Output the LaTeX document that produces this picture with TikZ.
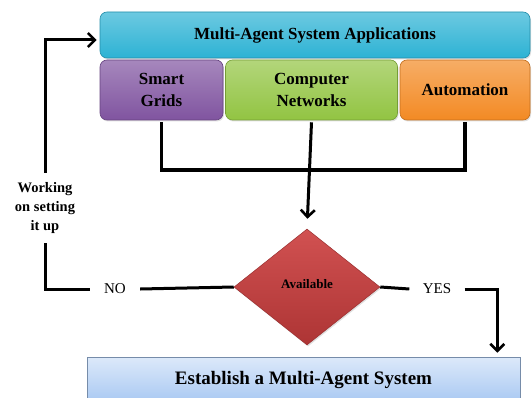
\documentclass[tikz,border=0pt]{standalone}
\usepackage{fontspec}
\setmainfont{Liberation Serif}
\usetikzlibrary{arrows.meta, calc, positioning, shapes.geometric, shadows}
\definecolor{appcyan}{RGB}{45,178,212}
\definecolor{gridpurple}{RGB}{128,84,160}
\definecolor{netgreen}{RGB}{146,196,66}
\definecolor{autoorange}{RGB}{243,138,36}
\definecolor{availred}{RGB}{204,62,62}
\definecolor{estabblue}{RGB}{168,200,242}
\tikzset{
    appbox/.style={
        rounded corners=7pt, draw=#1!80!black, line width=0.6pt,
        top color=#1!70!white, bottom color=#1,
        drop shadow={opacity=0.25, shadow xshift=1pt, shadow yshift=-1.5pt},
        align=center, inner sep=0pt,
        font=\bfseries\fontsize{17}{22}\selectfont
    },
    lbl/.style={fill=white, align=center, inner sep=0pt},
    line/.style={line width=3pt, line join=miter},
    arrow/.style={line width=3pt, -{Straight Barb[length=7pt, width=14pt, line width=2.6pt]}}
}
\begin{document}
\begin{tikzpicture}[x=1pt, y=-1pt]
    \useasboundingbox (0,0) rectangle (532,398);
    % applications
    \node[appbox=appcyan, minimum width=430, minimum height=46] (apps) at (315,35)
        {Multi-Agent System Applications};
    \node[appbox=gridpurple, minimum width=123, minimum height=60] (grids) at (161.5,90)
        {Smart\\Grids};
    \node[appbox=netgreen, minimum width=172, minimum height=60] (nets) at (311.5,90)
        {Computer\\Networks};
    \node[appbox=autoorange, minimum width=130, minimum height=60] (auto) at (465,90)
        {Automation};
    % decision
    \node[diamond, draw=availred!75!black, line width=0.5pt, top color=availred!90!white,
          bottom color=availred!85!black, inner sep=0pt, minimum width=146, minimum height=116,
          drop shadow={opacity=0.25, shadow xshift=1pt, shadow yshift=-1.5pt},
          font=\bfseries\fontsize{13}{15}\selectfont] (avail) at (307,287)
        {\raisebox{6pt}{Available}};
    % result
    \node[draw=estabblue!70!black, line width=0.6pt, top color=estabblue!40!white,
          bottom color=estabblue, minimum width=433, minimum height=46, inner sep=0pt,
          font=\bfseries\fontsize{19}{22}\selectfont] (estab) at (303.5,380)
        {\raisebox{4pt}{Establish a Multi-Agent System}};
    % labels on the loops
    \node[lbl, minimum width=92, minimum height=70,
          font=\bfseries\fontsize{14.5}{19}\selectfont] (work) at (45,208)
        {Working\\on setting\\it up};
    \node[lbl, minimum width=50, minimum height=28, font=\fontsize{15}{17}\selectfont] (no) at (115,289) {NO};
    \node[lbl, minimum width=55, minimum height=28, font=\fontsize{15}{17}\selectfont] (yes) at (437,289) {YES};
    \coordinate (jn) at (nets.south |- 0,170);
    \coordinate (drop) at ($(estab.north east)+(-23,0)$);
    % connectors
    \draw[line, line width=3.8pt] ([yshift=-2pt]grids.south) |- (jn) -| ([yshift=-2pt]auto.south);
    \draw[arrow, shorten >=10pt] ([yshift=-2pt]nets.south) -- (avail.north);
    \draw[line] (avail.west) -- (no.east);
    \draw[line] (no.west) -| (work.south);
    \draw[arrow, shorten >=3pt] (work.north) |- ([yshift=-5pt]apps.west);
    \draw[line] (avail.east) -- (yes.west);
    \draw[arrow, shorten >=4pt] (yes.east) -| (drop);
\end{tikzpicture}
\end{document}
